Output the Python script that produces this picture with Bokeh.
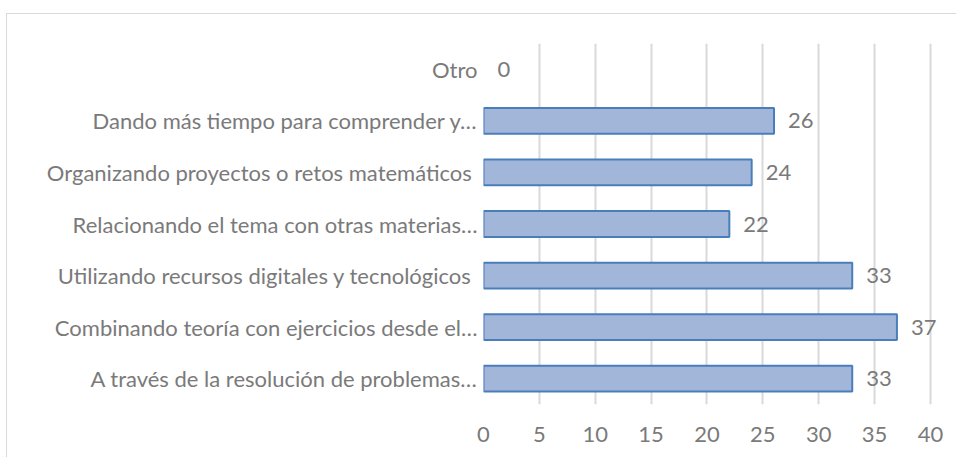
from bokeh.plotting import figure
from bokeh.models import FactorRange, Range1d, ColumnDataSource, FixedTicker, LabelSet
from bokeh.embed import file_html
from bokeh.resources import INLINE
from bokeh.core.properties import value

categories = [
    "A través de la resolución de problemas…",
    "Combinando teoría con ejercicios desde el…",
    "Utilizando recursos digitales y tecnológicos ",
    "Relacionando el tema con otras materias…",
    "Organizando proyectos o retos matemáticos ",
    "Dando más tiempo para comprender y…",
    "Otro",
]
counts = [33, 37, 33, 22, 24, 26, 0]
x_ticks = [0, 5, 10, 15, 20, 25, 30, 35, 40]

FONT = "Lato"
TXT = "#7a7a7a"
FS = "22px"

src = ColumnDataSource(dict(
    cat=categories, n=counts, lbl=[str(c) for c in counts],
    la=[1.0 if c > 0 else 0.0 for c in counts],
))

p = figure(
    width=950, height=444,
    y_range=FactorRange(*categories, range_padding=0),
    x_range=Range1d(0, 42.42),
    output_backend="svg", toolbar_location=None,
    min_border_left=476, min_border_right=0, min_border_top=29, min_border_bottom=54,
    margin=(13, 0, 0, 6),
    styles={"border-top": "1px solid #d9d9d9", "border-left": "1px solid #d9d9d9"},
)
p.outline_line_color = None

p.hbar(y="cat", right="n", left=0, height=0.5, source=src,
       fill_color="#a2b6da", line_color="#4a7ebb", line_width=2, line_alpha="la")

labels = LabelSet(x="n", y="cat", text="lbl", source=src, x_offset=14,
                  text_baseline="middle", text_align="left",
                  text_color=TXT, text_font=value(FONT), text_font_size=value(FS))
p.add_layout(labels)

p.xaxis.ticker = FixedTicker(ticks=x_ticks)
p.xaxis.axis_line_color = None
p.xaxis.major_tick_line_color = None
p.xaxis.minor_tick_line_color = None
p.xaxis.major_label_standoff = 16
p.xaxis.major_label_text_font = FONT
p.xaxis.major_label_text_font_size = FS
p.xaxis.major_label_text_color = TXT

p.yaxis.axis_line_color = None
p.yaxis.major_tick_line_color = None
p.yaxis.minor_tick_line_color = None
p.yaxis.major_label_standoff = 0
p.yaxis.major_label_text_font = FONT
p.yaxis.major_label_text_font_size = FS
p.yaxis.major_label_text_color = TXT

p.xgrid.grid_line_color = "#d9d9d9"
p.xgrid.grid_line_width = 2
p.ygrid.grid_line_color = None

open("out.html", "w").write(file_html(p, INLINE))
